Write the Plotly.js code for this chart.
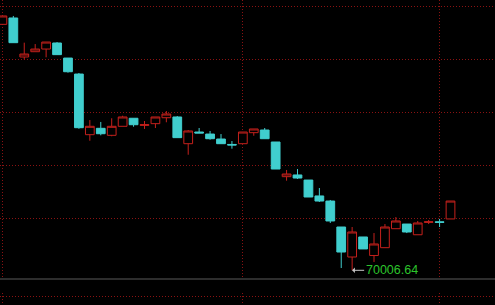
<!DOCTYPE html>
<html><head><meta charset="utf-8">
<script src="https://cdn.plot.ly/plotly-3.0.1.min.js"></script>
<style>html,body{margin:0;padding:0;background:#000;}#chart{width:495px;height:305px;}</style>
</head><body><div id="chart"></div>
<script>
const openP = [72327, 72387, 72019, 72069, 72094, 72151, 72009, 71858, 71286, 71346,
  71280, 71365, 71441, 71374, 71390, 71446, 71453, 71201, 71311, 71292,
  71245, 71194, 71201, 71305, 71330, 71217, 70890, 70906, 70858, 70708,
  70660, 70415, 70132, 70321, 70146, 70220, 70399, 70443, 70342, 70459,
  70464, 70491];
const highP = [72406, 72406, 72154, 72141, 72160, 72160, 72009, 71868, 71424, 71406,
  71441, 71465, 71441, 71415, 71453, 71509, 71462, 71330, 71349, 71321,
  71292, 71226, 71311, 71340, 71349, 71217, 70953, 70962, 70858, 70783,
  70670, 70415, 70415, 70321, 70358, 70443, 70509, 70443, 70472, 70481,
  70491, 70660];
const lowP = [72327, 72154, 71997, 72069, 72016, 72041, 71871, 71342, 71229, 71280,
  71271, 71365, 71361, 71340, 71349, 71403, 71258, 71097, 71302, 71239,
  71201, 71154, 71201, 71276, 71248, 70962, 70852, 70868, 70698, 70651,
  70453, 70028, 70006.64, 70208, 70085, 70220, 70399, 70358, 70342, 70443,
  70415, 70491];
const closeP = [72406, 72154, 72047, 72094, 72160, 72041, 71880, 71352, 71365, 71295,
  71365, 71453, 71380, 71380, 71453, 71481, 71258, 71321, 71302, 71248,
  71201, 71189, 71311, 71340, 71248, 70962, 70915, 70877, 70698, 70660,
  70472, 70179, 70368, 70208, 70255, 70415, 70472, 70368, 70453, 70464,
  70459, 70660];
const gridPrices = [70500, 71000, 71500, 72000, 72500];
const gridCandles = [0, 22, 40];

const x = openP.map((_, i) => i);
const minLow = Math.min(...lowP);
const minIdx = lowP.indexOf(minLow);

const RED = '#c4201c', CYAN = '#40cece', GRID = '#8a1212';

const trace = {
  type: 'candlestick', x: x, open: openP, high: highP, low: lowP, close: closeP,
  increasing: {line: {color: RED, width: 1}, fillcolor: '#000000'},
  decreasing: {line: {color: CYAN, width: 1}, fillcolor: CYAN},
  whiskerwidth: 0, hoverinfo: 'skip', showlegend: false
};
const lowerPane = {type: 'scatter', mode: 'markers', x: [], y: [], xaxis: 'x', yaxis: 'y2',
  hoverinfo: 'skip', showlegend: false};

const layout = {
  width: 495, height: 305,
  margin: {l: 0, r: 0, t: 0, b: 0, pad: 0},
  paper_bgcolor: '#000', plot_bgcolor: '#000',
  boxgap: 0.2, boxgroupgap: 0,
  showlegend: false,
  xaxis: {range: [-0.22, 45.07], rangeslider: {visible: false}, showticklabels: false,
    ticks: '', zeroline: false, showline: false, tickmode: 'array', tickvals: gridCandles,
    showgrid: true, gridcolor: GRID, gridwidth: 1, griddash: '1px,2px', fixedrange: true},
  yaxis: {domain: [28/305, 1], range: [69943.4, 72556.6], showticklabels: false, ticks: '',
    zeroline: false, showline: false, tickmode: 'array', tickvals: gridPrices,
    showgrid: true, gridcolor: GRID, gridwidth: 1, griddash: '1px,2px', fixedrange: true},
  yaxis2: {domain: [0, 12/305], range: [0, 1], anchor: 'x', showticklabels: false, ticks: '',
    zeroline: false, showline: false, tickmode: 'array', tickvals: [0.75],
    showgrid: true, gridcolor: GRID, gridwidth: 1, griddash: '1px,2px', fixedrange: true},
  shapes: [
    {type: 'line', xref: 'paper', yref: 'paper', x0: 0, x1: 1, y0: 26/305, y1: 26/305,
     line: {color: '#5a5a5a', width: 1}}
  ],
  annotations: [{
    x: minIdx, y: minLow, xref: 'x', yref: 'y',
    text: minLow.toFixed(2), showarrow: true, ax: 12, ay: 0, xanchor: 'left',
    arrowhead: 1, arrowsize: 0.9, arrowwidth: 1, arrowcolor: '#c8c8c8', standoff: 0,
    font: {family: 'Liberation Sans, Arial, sans-serif', size: 12.5, color: '#2cc42c'}
  }]
};

Plotly.newPlot('chart', [trace, lowerPane], layout, {staticPlot: true, displayModeBar: false});
</script></body></html>
